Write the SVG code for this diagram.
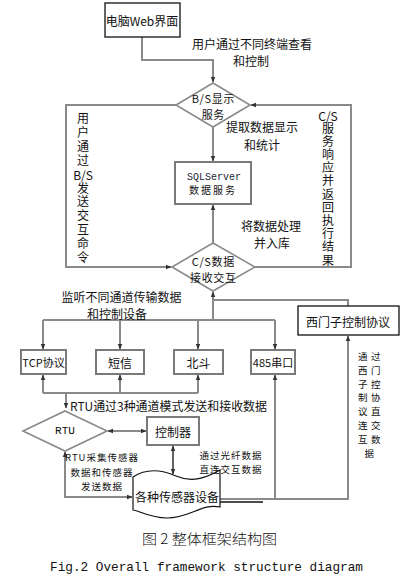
<svg xmlns="http://www.w3.org/2000/svg" width="415" height="583" viewBox="0 0 415 583">
<style>
text{font-family:"Noto Sans CJK SC","Liberation Sans",sans-serif;font-size:12px;fill:#111;text-anchor:middle;dominant-baseline:central}
.v{writing-mode:vertical-rl;text-anchor:start}
.d{font-size:11px;letter-spacing:0.6px}
.sm{font-size:9.5px;letter-spacing:1px}
.mono{font-family:"Liberation Mono","Noto Sans CJK SC",monospace}
.ln{fill:none;stroke:#8a8a8a;stroke-width:2}
.bk{fill:none;stroke:#111;stroke-width:1.3}
.box{fill:#fff;stroke:#111;stroke-width:1.3}
.gbox{fill:#fff;stroke:#7a7a7a;stroke-width:2}
.dia{fill:#fff;stroke:#8a8a8a;stroke-width:1.6}
</style>
<defs>
<marker id="ar" viewBox="0 0 10 10" refX="9" refY="5" markerWidth="6" markerHeight="6" orient="auto-start-reverse" markerUnits="userSpaceOnUse">
<path d="M0,1 L10,5 L0,9 Z" fill="#333"/>
</marker>
</defs>
<rect width="415" height="583" fill="#fff"/>
<g id="connectors">
<path class="ln" d="M142,37 V60 H213 V82" marker-end="url(#ar)"/>
<path class="ln" d="M176,105 H66 V267 H171" marker-end="url(#ar)"/>
<path class="ln" d="M255,267 H351 V105 H251" marker-end="url(#ar)"/>
<path class="ln" d="M213,127 V161" marker-end="url(#ar)"/>
<path class="ln" d="M213,243 V205" marker-end="url(#ar)"/>
<path class="ln" d="M213,320 V292" marker-end="url(#ar)"/>
<path class="ln" d="M43,320 H275"/>
<path class="ln" d="M43,320 V349" marker-end="url(#ar)"/>
<path class="ln" d="M120,320 V349" marker-end="url(#ar)"/>
<path class="ln" d="M198,320 V349" marker-end="url(#ar)"/>
<path class="ln" d="M275,320 V349" marker-end="url(#ar)"/>
<path class="ln" d="M213,300 H348 V306"/>
<path class="ln" d="M43,393 H198"/>
<path class="ln" d="M43,393 V375" marker-end="url(#ar)"/>
<path class="ln" d="M120,393 V375" marker-end="url(#ar)"/>
<path class="ln" d="M198,393 V375" marker-end="url(#ar)"/>
<path class="ln" d="M66,393 V408" marker-end="url(#ar)"/>
<path class="ln" d="M108,431 H146" marker-start="url(#ar)" marker-end="url(#ar)"/>
<path class="bk" d="M173,446 V474" marker-start="url(#ar)" marker-end="url(#ar)" stroke-width="1.6"/>
<path class="ln" d="M65,452 V497 H132" marker-start="url(#ar)" marker-end="url(#ar)"/>
<path class="ln" d="M220,499 H348 V336" marker-end="url(#ar)"/>
<path class="ln" d="M275,499 V375" marker-end="url(#ar)"/>
<path class="bk" d="M220,502 H263"/>
</g>
<g id="web"><rect class="box" x="105" y="3" width="75" height="34"/><text x="142" y="20">电脑Web界面</text></g>
<g id="bs"><path class="dia" d="M213,83 L250,105 L213,127 L176,105 Z"/><text class="d" x="213.3" y="97.5">B/S显示</text><text class="d" x="213.3" y="113.5">服务</text></g>
<g id="sql"><rect class="gbox" x="175" y="162" width="76" height="42"/><text class="mono" x="214" y="177" style="font-size:10px;fill:#223">SQLServer</text><text x="213" y="189" style="font-size:10px;letter-spacing:2px">数据服务</text></g>
<g id="cs"><path class="dia" d="M213,243 L255,267 L213,291 L172,267 Z"/><text class="d" x="213.3" y="261">C/S数据</text><text class="d" x="213.3" y="277">接收交互</text></g>
<g id="tcp"><rect class="gbox" x="21" y="350" width="45" height="24"/><text x="43.5" y="362" style="font-size:11px">TCP协议</text></g>
<g id="sms"><rect class="gbox" x="96" y="350" width="48" height="24"/><text x="120" y="362">短信</text></g>
<g id="beidou"><rect class="gbox" x="174" y="350" width="49" height="24"/><text x="198.5" y="362">北斗</text></g>
<g id="rs485"><rect class="gbox" x="251" y="350" width="44" height="24"/><text x="273" y="362" style="font-size:11px">485串口</text></g>
<g id="siemens"><rect class="box" x="298" y="306" width="101" height="29"/><text x="348" y="321">西门子控制协议</text></g>
<g id="rtu"><path class="dia" d="M65,411 L107,431 L65,451 L23,431 Z"/><text class="mono" x="65" y="431" style="font-size:11px">RTU</text></g>
<g id="ctrl"><rect class="gbox" x="147" y="417" width="52" height="28"/><text x="173" y="431">控制器</text></g>
<g id="sensors"><path d="M133,477 C145,469 160,469 176,476 C192,483 206,478 220,470 L220,507 C202,503 190,518 167,518 C150,518 140,511 133,510 Z" fill="#fff" stroke="#111" stroke-width="1.2"/><text x="177" y="496">各种传感器设备</text></g>
<g id="labels">
<text x="252" y="43">用户通过不同终端查看</text>
<text x="251" y="60.5">和控制</text>
<text x="262" y="126.5">提取数据显示</text>
<text x="262" y="144">和统计</text>
<text x="271" y="225">将数据处理</text>
<text x="272" y="242.5">并入库</text>
<text x="121.5" y="296">监听不同通道传输数据</text>
<text x="117" y="313.5">和控制设备</text>
<text x="70" y="405" textLength="197" lengthAdjust="spacingAndGlyphs" style="text-anchor:start">RTU通过3种通道模式发送和接收数据</text>
<text class="sm" x="102" y="457">RTU采集传感器</text>
<text class="sm" x="102" y="472">数据和传感器</text>
<text class="sm" x="102" y="486">发送数据</text>
<text class="sm" x="231" y="455">通过光纤数据</text>
<text class="sm" x="231" y="469">直连交互数据</text>
<text class="v" x="83" y="112" style="letter-spacing:2px">用户通过</text>
<text x="83" y="174">B/S</text>
<text class="v" x="83" y="182" style="letter-spacing:1.8px">发送交互命令</text>
<text x="328" y="115">C/S</text>
<text class="v" x="328" y="122" style="letter-spacing:1.2px">服务响应并返回执行结果</text>
<text x="371" style="font-size:9.5px;letter-spacing:3.5px"><tspan x="371" y="356">通过</tspan><tspan x="371" y="369.8">西门</tspan><tspan x="371" y="383.6">子控</tspan><tspan x="371" y="397.4">制协</tspan><tspan x="371" y="411.2">议直</tspan><tspan x="371" y="425">连交</tspan><tspan x="371" y="438.8">互数</tspan><tspan x="371" y="452.6">据</tspan></text>
<text x="209.5" y="538" textLength="135" lengthAdjust="spacingAndGlyphs" style="font-size:14px;font-weight:300">图 2 整体框架结构图</text>
<text class="mono" x="206.5" y="568" textLength="313" lengthAdjust="spacingAndGlyphs" style="font-size:12.6px">Fig.2 Overall framework structure diagram</text>
</g>
</svg>
